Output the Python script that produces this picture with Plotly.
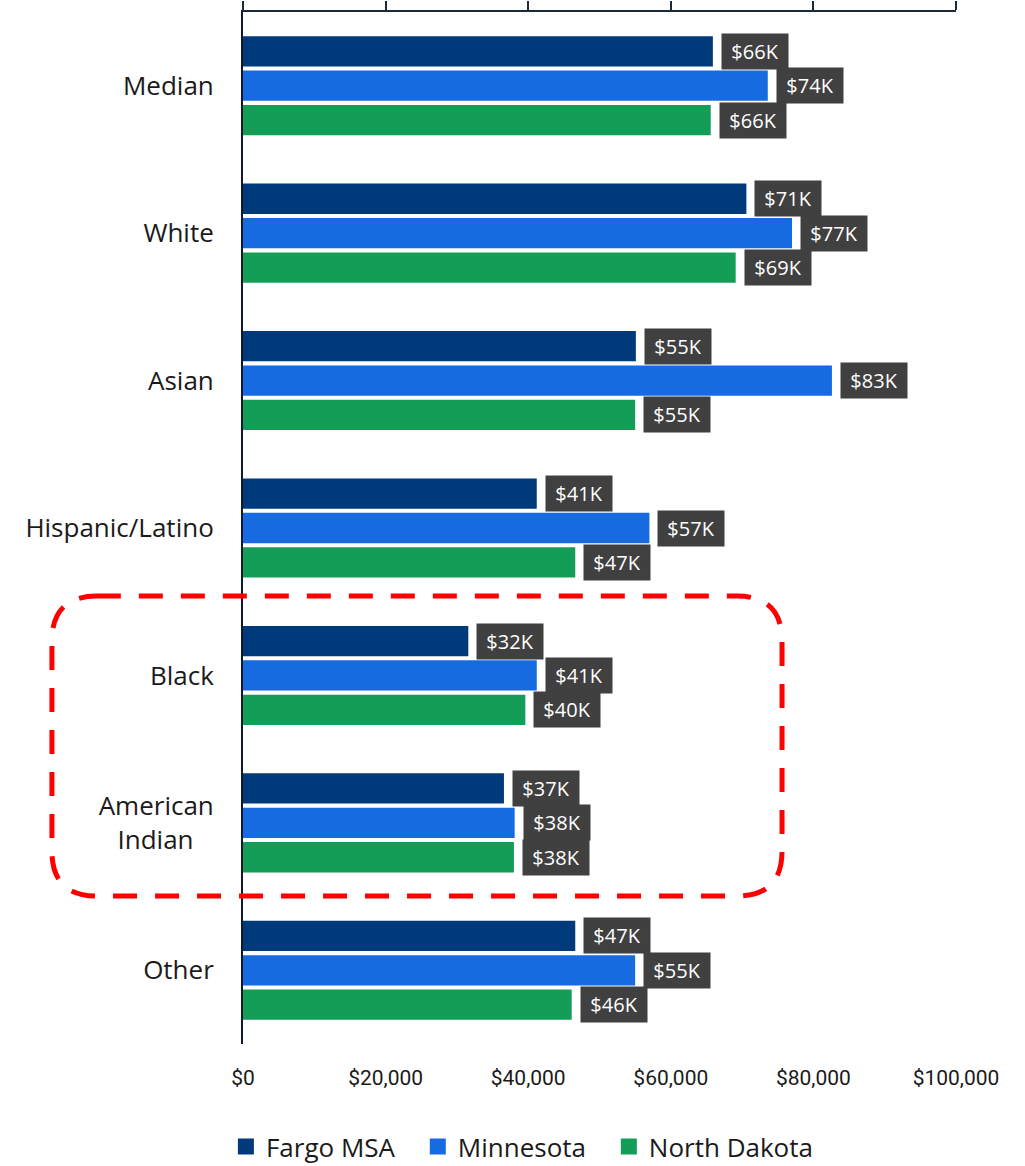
import plotly.graph_objects as go

categories = ["Median", "White", "Asian", "Hispanic/Latino", "Black", "American Indian", "Other"]
category_labels = ["Median", "White", "Asian", "Hispanic/Latino", "Black",
                   "American<br>Indian\u00a0\u00a0\u00a0", "Other"]
fargo = [65900, 70600, 55100, 41200, 31600, 36600, 46600]
minnesota = [73600, 77000, 82600, 57000, 41200, 38100, 55000]
north_dakota = [65600, 69100, 55000, 46600, 39600, 38000, 46100]
series_names = ["Fargo MSA", "Minnesota", "North Dakota"]
series_colors = ["#003A7A", "#176BE0", "#139D57"]
x_ticks = [0, 20000, 40000, 60000, 80000, 100000]

series = [fargo, minnesota, north_dakota]
FONT = "Open Sans, Noto Sans, DejaVu Sans, sans-serif"
TICKFONT = "Roboto, Open Sans, sans-serif"
PAD = "\u00a0\u00a0\u2009"  # extra spacing between legend entries

fig = go.Figure()
for name, vals, col in zip(series_names, series, series_colors):
    fig.add_trace(go.Bar(
        y=categories, x=vals, name=name, orientation="h",
        marker=dict(color=col, line=dict(width=0)),
        hoverinfo="x+y", showlegend=False,
    ))
# legend entries with larger square swatches
for j, (name, col) in enumerate(zip(series_names, series_colors)):
    fig.add_trace(go.Scatter(
        x=[None], y=[None], mode="markers",
        name=name + (PAD if j < len(series_names) - 1 else ""),
        marker=dict(symbol="square", size=16, color=col), showlegend=True,
    ))

bargap = 0.3
slot = (1 - bargap) / 3
annotations = []
for k, vals in enumerate(series):
    for i, v in enumerate(vals):
        annotations.append(dict(
            x=v, y=i + (k - 1) * slot, xref="x", yref="y",
            text=f"${round(v / 1000)}K", showarrow=False,
            xanchor="left", yanchor="middle", xshift=8,
            font=dict(family=FONT, size=20, color="white"),
            bgcolor="#404040", borderpad=4, width=58, height=27, align="center",
        ))

fig.update_layout(
    width=1025, height=1166,
    margin=dict(l=243, r=69, t=12, b=122, autoexpand=False),
    plot_bgcolor="white", paper_bgcolor="white",
    barmode="group", bargap=bargap, bargroupgap=0.12,
    font=dict(family=FONT, color="#1a1a1a"),
    annotations=annotations,
    showlegend=True,
    legend=dict(orientation="h", x=-0.024, xanchor="left", y=-0.0995, yanchor="middle",
                font=dict(family=FONT, size=26, color="#1a1a1a"),
                traceorder="normal", itemwidth=30, bgcolor="rgba(0,0,0,0)"),
    xaxis=dict(range=[0, 100000], side="top", showline=True, linecolor="#1c2a3a", linewidth=2,
               ticks="outside", ticklen=9, tickwidth=2, tickcolor="#1c2a3a",
               tickvals=x_ticks, showticklabels=False, showgrid=False, zeroline=False,
               fixedrange=True),
    xaxis2=dict(range=[0, 100000], overlaying="x", side="bottom", anchor="y", matches="x",
                showline=False, ticks="", tickvals=x_ticks, tickformat="$,",
                ticklabelstandoff=19,
                tickfont=dict(family=TICKFONT, size=21, color="#1a1a1a"),
                showgrid=False, zeroline=False),
    yaxis=dict(categoryorder="array", categoryarray=categories, autorange="reversed",
               tickvals=categories, ticktext=category_labels,
               showline=True, linecolor="#0f1a2a", linewidth=2, ticks="", ticklabelstandoff=22,
               tickfont=dict(family=FONT, size=26, color="#1a1a1a"),
               showgrid=False, zeroline=False),
)

# dashed highlight box around Black and American Indian groups
x0, x1, y0, y1, r = -0.268, 0.756, 0.1434, 0.434, 0.063
ry = r * 713 / 1032
path = (f"M {x0 + r},{y1} L {x1 - r},{y1} Q {x1},{y1} {x1},{y1 - ry} "
        f"L {x1},{y0 + ry} Q {x1},{y0} {x1 - r},{y0} "
        f"L {x0 + r},{y0} Q {x0},{y0} {x0},{y0 + ry} "
        f"L {x0},{y1 - ry} Q {x0},{y1} {x0 + r},{y1} Z")
fig.add_shape(type="path", path=path, xref="paper", yref="paper",
              line=dict(color="#FF0000", width=5, dash="24px,18px"), layer="above")

# invisible trace to keep the bottom axis drawn
fig.add_trace(go.Scatter(x=[0], y=[categories[0]], xaxis="x2", mode="markers",
                         marker=dict(opacity=0), showlegend=False, hoverinfo="skip"))

fig.write_html("out.html")
